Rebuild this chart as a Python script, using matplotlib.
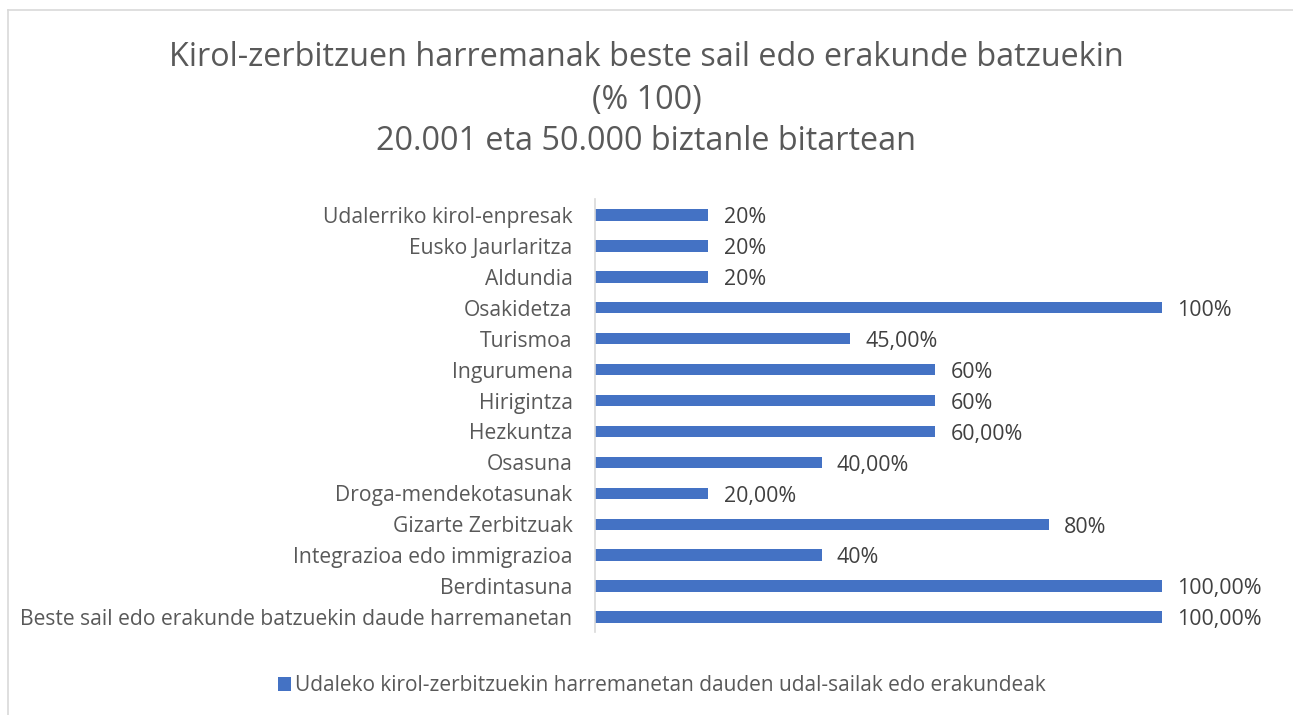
import matplotlib
matplotlib.use("Agg")
import matplotlib.pyplot as plt
from matplotlib.lines import Line2D

plt.rcParams['font.family'] = ['Open Sans', 'DejaVu Sans']

categories = [
    'Udalerriko kirol-enpresak',
    'Eusko Jaurlaritza',
    'Aldundia',
    'Osakidetza',
    'Turismoa',
    'Ingurumena',
    'Hirigintza',
    'Hezkuntza',
    'Osasuna',
    'Droga-mendekotasunak',
    'Gizarte Zerbitzuak',
    'Integrazioa edo immigrazioa',
    'Berdintasuna',
    'Beste sail edo erakunde batzuekin daude harremanetan',
]
values = [20, 20, 20, 100, 45, 60, 60, 60, 40, 20, 80, 40, 100, 100]
value_labels = ['20%', '20%', '20%', '100%', '45,00%', '60%', '60%', '60,00%',
                '40,00%', '20,00%', '80%', '40%', '100,00%', '100,00%']
title = ('Kirol-zerbitzuen harremanak beste sail edo erakunde batzuekin\n'
         '(% 100)\n20.001 eta 50.000 biztanle bitartean')
legend_label = 'Udaleko kirol-zerbitzuekin harremanetan dauden udal-sailak edo erakundeak'

bar_color = '#4472C4'
text_color = '#595959'

fig = plt.figure(figsize=(12.93, 7.15), dpi=100)
ax = fig.add_axes([0.460, 0.1154, 0.4387, 0.6056])

ypos = list(range(len(categories)))
bars = ax.barh(ypos, values, height=0.37, color=bar_color, label=legend_label)
ax.set_xlim(0, 100)
ax.set_ylim(len(categories) - 0.5, -0.5)
ax.set_yticks(ypos)
ax.set_yticklabels(categories, fontsize=15.2, color=text_color)
ax.tick_params(axis='y', length=0, pad=16)
ax.set_xticks([])
for s in ['top', 'right', 'bottom']:
    ax.spines[s].set_visible(False)
ax.spines['left'].set_color('#d9d9d9')
ax.spines['left'].set_linewidth(1.2)

for b, lab in zip(bars, value_labels):
    ax.annotate(lab, (b.get_width(), b.get_y() + b.get_height() / 2),
                xytext=(11, -2), textcoords='offset points',
                va='center', ha='left', fontsize=15.4, color='#404040')

fig.text(0.5, 1 - 100 / 715, title, ha='center', va='center', fontsize=23.3,
         color=text_color, linespacing=1.36)

fig.legend(handles=[bars], labels=[legend_label], loc='center',
           bbox_to_anchor=(0.512, 0.0406), frameon=False, fontsize=15,
           handlelength=0.65, handleheight=0.65, handletextpad=0.2,
           labelcolor=text_color)

# chart frame
fig.add_artist(Line2D([8 / 1293, 1.0], [1 - 10 / 715] * 2, transform=fig.transFigure,
                      color='#d9d9d9', lw=1.2))
fig.add_artist(Line2D([8 / 1293] * 2, [0, 1 - 10 / 715], transform=fig.transFigure,
                      color='#d9d9d9', lw=1.2))

fig.savefig('out.png', dpi=100)
